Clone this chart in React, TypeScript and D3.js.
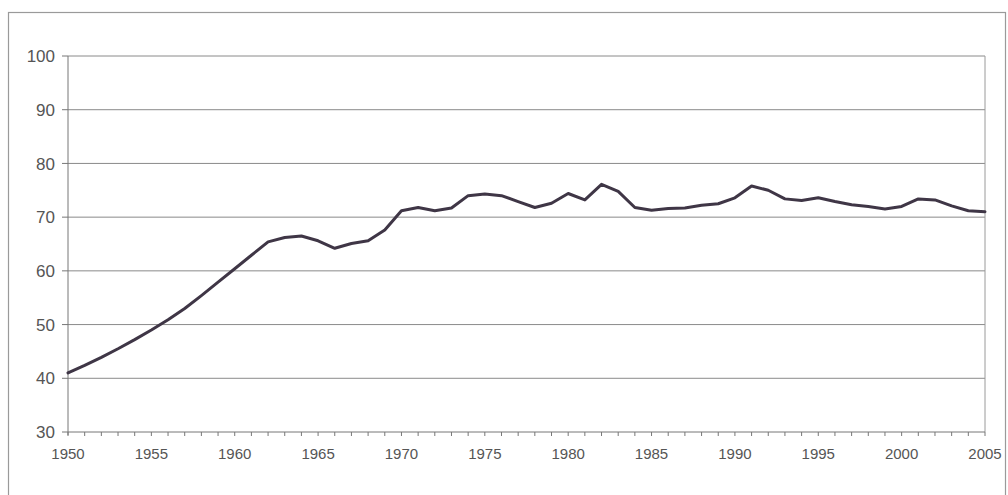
import React from "react";
import * as d3 from "d3";

const years: number[] = [
  1950, 1951, 1952, 1953, 1954, 1955, 1956, 1957, 1958, 1959,
  1960, 1961, 1962, 1963, 1964, 1965, 1966, 1967, 1968, 1969,
  1970, 1971, 1972, 1973, 1974, 1975, 1976, 1977, 1978, 1979,
  1980, 1981, 1982, 1983, 1984, 1985, 1986, 1987, 1988, 1989,
  1990, 1991, 1992, 1993, 1994, 1995, 1996, 1997, 1998, 1999,
  2000, 2001, 2002, 2003, 2004, 2005,
];

const values: number[] = [
  41.0, 42.4, 43.9, 45.5, 47.2, 49.0, 50.9, 53.0, 55.4, 57.9,
  60.4, 62.9, 65.4, 66.2, 66.5, 65.6, 64.2, 65.1, 65.6, 67.6,
  71.2, 71.8, 71.2, 71.7, 74.0, 74.3, 74.0, 72.9, 71.8, 72.6,
  74.4, 73.2, 76.1, 74.8, 71.8, 71.3, 71.6, 71.7, 72.2, 72.5,
  73.6, 75.8, 75.0, 73.4, 73.1, 73.6, 72.9, 72.3, 72.0, 71.5,
  72.0, 73.4, 73.2, 72.1, 71.2, 71.0,
];

const yTicks: number[] = [30, 40, 50, 60, 70, 80, 90, 100];
const xTickLabels: number[] = [1950, 1955, 1960, 1965, 1970, 1975, 1980, 1985, 1990, 1995, 2000, 2005];

export default function App() {
  const W = 1008;
  const H = 495;
  const left = 68;
  const right = 985;
  const top = 56;
  const bottom = 432;

  const x = d3.scaleLinear().domain([1950, 2005]).range([left, right]);
  const y = d3.scaleLinear().domain([30, 100]).range([bottom, top]);

  const data = years.map((yr, i) => ({ yr, v: values[i] }));
  const line = d3
    .line<{ yr: number; v: number }>()
    .x((d) => x(d.yr))
    .y((d) => y(d.v));

  const font = "'Liberation Sans', Arial, sans-serif";
  const textColor = "#555";
  const gridColor = "#8a8a8a";

  return (
    <svg
      width={W}
      height={H}
      style={{ position: "absolute", left: 0, top: 0, background: "#fff" }}
    >
      <rect x={0} y={0} width={W} height={H} fill="#fff" />
      {/* outer frame */}
      <rect x={8.5} y={12.5} width={997} height={500} fill="none" stroke="#9a9a9a" strokeWidth={1.2} />

      {/* gridlines */}
      {yTicks.filter((t) => t > 30).map((t) => (
        <line key={"g" + t} x1={left} x2={right} y1={y(t)} y2={y(t)} stroke={gridColor} strokeWidth={1} />
      ))}
      {/* right border of plot */}
      <line x1={right} x2={right} y1={top} y2={bottom} stroke="#9a9a9a" strokeWidth={1} />

      {/* y axis */}
      <line x1={left} x2={left} y1={top} y2={bottom + 3} stroke="#777" strokeWidth={1} />
      {yTicks.map((t) => (
        <g key={"y" + t}>
          <line x1={left - 6} x2={left} y1={y(t)} y2={y(t)} stroke="#777" strokeWidth={1} />
          <text
            x={55}
            y={y(t)}
            dy="0.36em"
            textAnchor="end"
            fontFamily={font}
            fontSize={17}
            fill={textColor}
          >
            {t}
          </text>
        </g>
      ))}

      {/* x axis */}
      <line x1={left} x2={right} y1={bottom} y2={bottom} stroke="#777" strokeWidth={1} />
      {years.map((yr) => (
        <line key={"xt" + yr} x1={x(yr)} x2={x(yr)} y1={bottom} y2={bottom + 4} stroke="#777" strokeWidth={1} />
      ))}
      {xTickLabels.map((yr) => (
        <text
          key={"xl" + yr}
          x={x(yr)}
          y={459}
          textAnchor="middle"
          fontFamily={font}
          fontSize={15}
          fill={textColor}
        >
          {yr}
        </text>
      ))}

      {/* data line */}
      <path d={line(data) || ""} fill="none" stroke="#3f3646" strokeWidth={3} strokeLinejoin="round" strokeLinecap="round" />
    </svg>
  );
}
